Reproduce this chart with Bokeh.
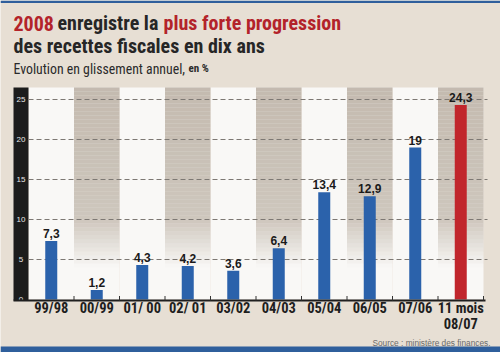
from bokeh.plotting import figure
from bokeh.models import ColumnDataSource, Range1d, Label
from bokeh.core.properties import value
from bokeh.embed import file_html
from bokeh.resources import INLINE

# ---- data ----
categories = ["99/98", "00/99", "01/ 00", "02/ 01", "03/02", "04/03",
              "05/04", "06/05", "07/06", "11 mois\n08/07"]
values = [7.3, 1.2, 4.3, 4.2, 3.6, 6.4, 13.4, 12.9, 19.0, 24.3]
y_ticks = [0, 5, 10, 15, 20, 25]


def fr(v):
    s = ("%.1f" % v).replace(".", ",")
    return s[:-2] if s.endswith(",0") else s


value_labels = [fr(v) for v in values]

# ---- style / geometry ----
BG = "#e7dfd4"
BLUE = "#2b62ab"
RED = "#c1262c"
DARK = "#262626"
TRED = "#b3232a"
NARROW = "Roboto Condensed"
X0, CW = 28.0, 45.5      # pixel of first column edge, column width
Y0, PU = 299.0, 8.0      # pixel of zero line, pixels per unit
W, H = 500, 352
TOP = 26.5

n = len(categories)
idx = list(range(n))

p = figure(width=W, height=H,
           x_range=Range1d(-X0 / CW - 0.5, (W - X0) / CW - 0.5),
           y_range=Range1d(-(H - Y0) / PU, Y0 / PU),
           output_backend="svg", toolbar_location=None,
           x_axis_location=None, y_axis_location=None,
           min_border=0, background_fill_color=BG, border_fill_color=BG,
           outline_line_color=None)
p.grid.visible = False


def px2x(px):
    return (px - X0) / CW - 0.5


def py2y(py):
    return (Y0 - py) / PU


# top and bottom blue bands
p.quad(left=px2x(0), right=px2x(W), bottom=py2y(2.5), top=py2y(0), fill_color="#2f5f9c", line_color=None)
p.quad(left=px2x(0), right=px2x(W), bottom=py2y(H), top=py2y(346), fill_color="#2f5f9c", line_color=None)

# white columns
p.quad(left=[i - 0.5 for i in idx], right=[i + 0.5 for i in idx], bottom=0, top=TOP,
       fill_color="#f9f8f6", line_color=None)

# shaded (odd) columns with vertical gradient
gl, gr, gb, gt, ga = [], [], [], [], []
step = 0.5
k = 0
while k * step < TOP:
    b = k * step
    t = min(TOP, b + step)
    m = (b + t) / 2
    if m >= 10:
        a = 0.5 + 0.12 * (m - 10) / (TOP - 10)
    elif m >= 4:
        a = 0.5 * (m - 4) / 6
    else:
        a = 0.0
    for i in idx:
        if i % 2 == 1:
            gl.append(i - 0.5); gr.append(i + 0.5); gb.append(b); gt.append(t); ga.append(a)
    k += 1
p.quad(left=gl, right=gr, bottom=gb, top=gt, fill_color="#a39584", fill_alpha=ga, line_color=None)

# black strip for y ticks
p.quad(left=px2x(13), right=-0.5, bottom=py2y(300), top=TOP, fill_color="#1c1c1c", line_color=None)

# dashed gridlines
g = [t for t in y_ticks if t > 0]
p.segment(x0=[-0.5] * len(g), x1=[px2x(487)] * len(g), y0=g, y1=g,
          line_color="#7d7873", line_width=1, line_dash="5 3")

# y tick labels
p.text(x=[px2x(20.5)] * len(y_ticks), y=y_ticks, text=[str(t) for t in y_ticks],
       text_color="#e8e8e8", text_font=value("Liberation Sans"), text_font_size="8px",
       text_align="center", text_baseline="middle")

# bars
src = ColumnDataSource(dict(x=idx, top=values, lab=value_labels, cat=categories,
                            color=[BLUE] * (n - 1) + [RED]))
p.vbar(x="x", top="top", bottom=0, width=12 / CW, fill_color="color", line_color=None, source=src)

# baseline + small ticks
p.segment(x0=px2x(13), x1=px2x(485), y0=py2y(300), y1=py2y(300), line_color="#1e1e1e", line_width=2)
p.segment(x0=[i + 0.5 for i in idx], x1=[i + 0.5 for i in idx],
          y0=[py2y(300)] * n, y1=[py2y(295.5)] * n, line_color="#333333", line_width=1)

# value labels
p.text(x="x", y="top", text="lab", source=src, text_color="#1a1a1a",
       text_font=value("Liberation Sans"), text_font_style="bold", text_font_size="12px",
       text_align="center", text_baseline="bottom", y_offset=-3)

# category labels
p.text(x="x", y=py2y(299), text="cat", source=src, text_color="#1e1e1e",
       text_font=value(NARROW), text_font_style="bold", text_font_size="14.5px",
       text_align="center", text_baseline="top", text_line_height=0.95)


def lab(txt, x, ybase, color, size, style="bold", font=NARROW, align="left"):
    p.add_layout(Label(x=x, y=H - ybase, x_units="screen", y_units="screen", text=txt,
                       text_color=color, text_font_size=size, text_font=font,
                       text_font_style=style, text_align=align, text_baseline="alphabetic"))


# title
lab("2008", 13, 22.7, TRED, "20px")
lab("enregistre la", 57, 22.7, DARK, "20px")
lab("plus forte progression", 163, 22.7, TRED, "20px")
lab("des recettes fiscales en dix ans", 13, 45, DARK, "20px")
lab("Evolution en glissement annuel,", 13, 68.3, "#2a2a2a", "13.8px", style="normal")
lab("en %", 188, 68.3, "#2a2a2a", "11px")
lab("Source : ministère des finances.", 490, 342.5, "#6b6b6b", "8.3px", style="normal",
    font="Liberation Sans", align="right")

open("out.html", "w").write(file_html(p, INLINE))
